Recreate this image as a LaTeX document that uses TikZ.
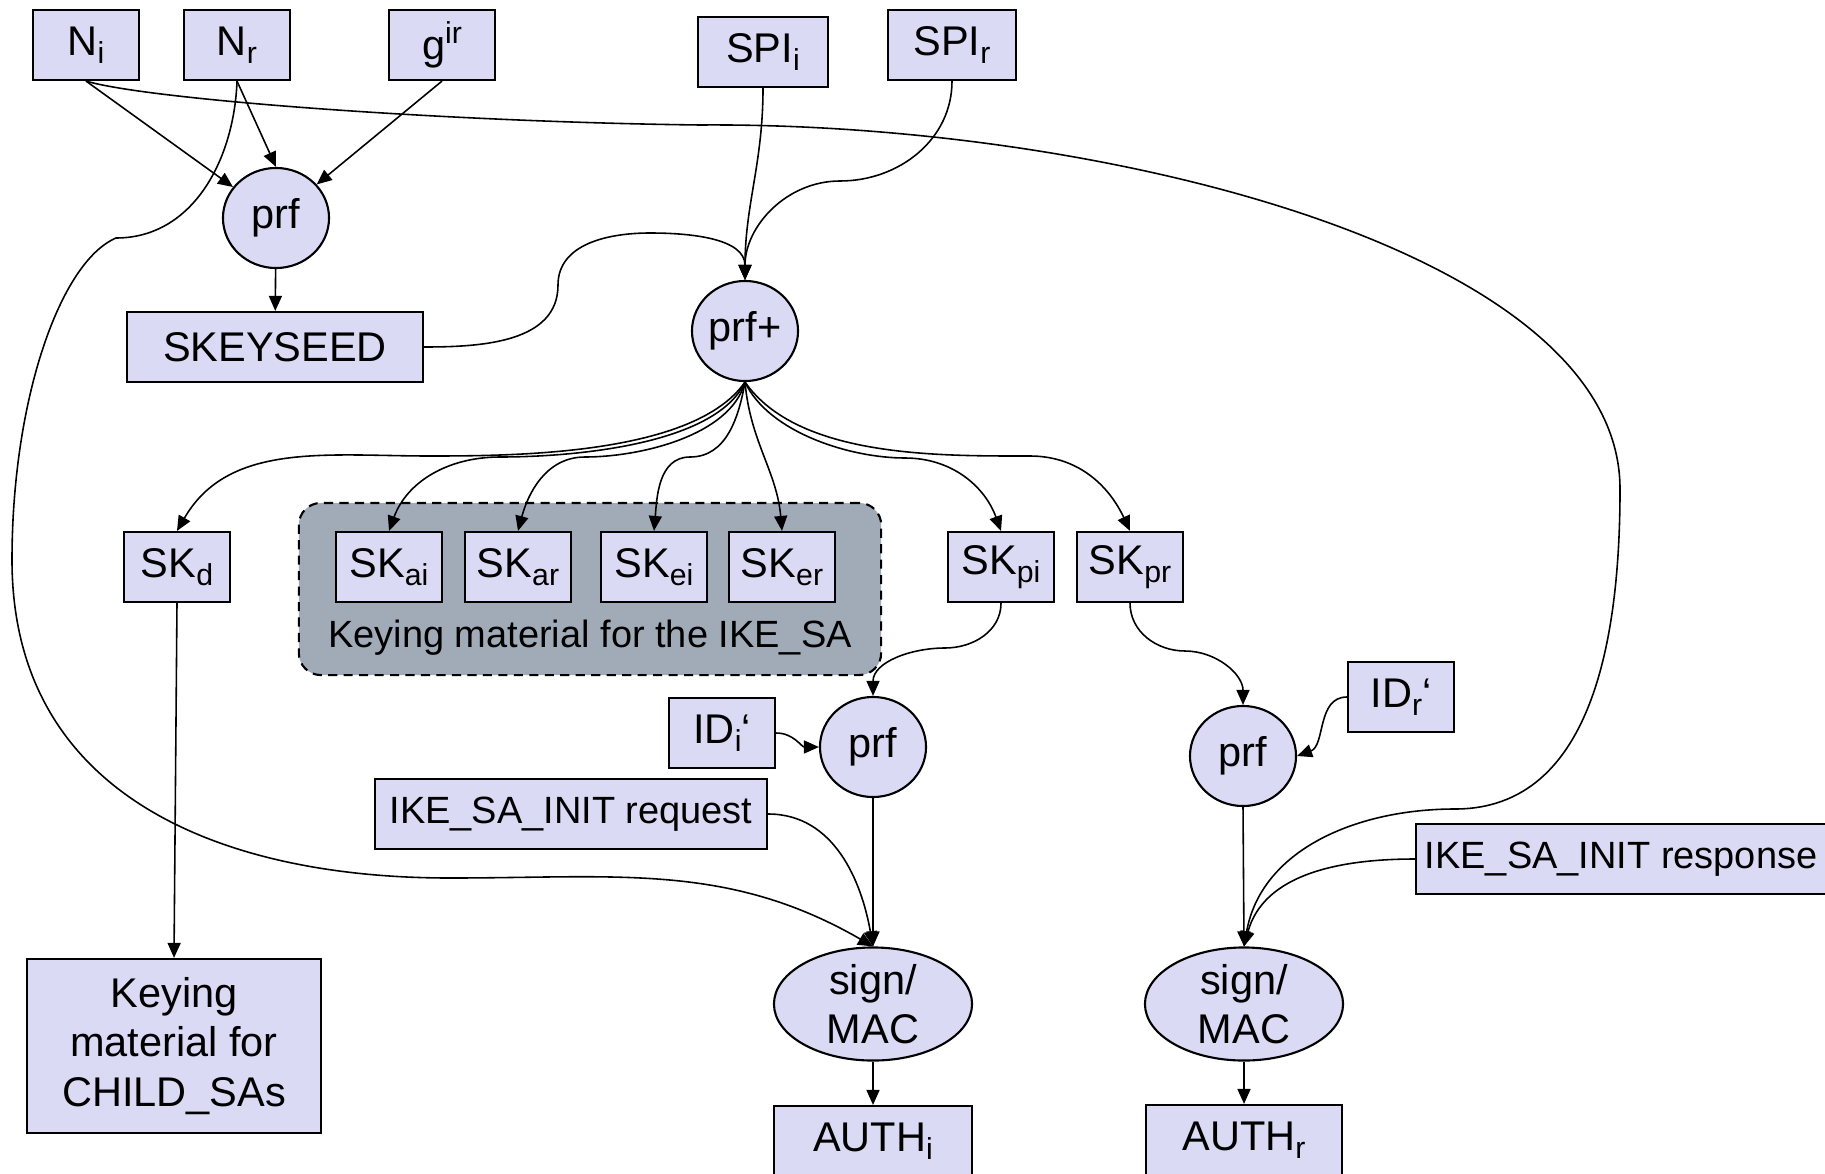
\documentclass[tikz,border=0pt]{standalone}
\usepackage{fontspec}
\setmainfont{Liberation Sans}
\usetikzlibrary{%
  arrows.meta,%
  shapes.geometric,% wg. ellipse
  positioning%
}
\definecolor{keyfill}{RGB}{218,218,244}
\definecolor{grpfill}{RGB}{161,171,184}
\newcommand{\subtxt}[1]{\raisebox{-2.4pt}{\fontsize{8.6}{10}\selectfont #1}}
\newcommand{\suptxt}[1]{\raisebox{4.6pt}{\fontsize{8.6}{10}\selectfont #1}}

\begin{document}
\begin{tikzpicture}[x=0.01cm,y=-0.01cm,
  keybox/.style={draw,fill=keyfill,line width=0.6pt,inner sep=0pt,minimum width=1.06cm,minimum height=0.70cm,font=\fontsize{11.8}{14}\selectfont},
  func/.style={ellipse,draw,fill=keyfill,line width=0.6pt,inner sep=0pt,minimum width=1.06cm,minimum height=1.0cm,font=\fontsize{11.8}{14}\selectfont},
  signfn/.style={func,inner sep=-3pt,minimum width=1.98cm,minimum height=1.13cm,align=center},
  ikegroup/.style={draw,fill=grpfill,dash pattern=on 2.6pt off 1.8pt,rounded corners=0.22cm,line width=0.6pt,minimum width=5.82cm,minimum height=1.72cm},
  small/.style={font=\fontsize{10.8}{13}\selectfont},
  conn/.style={-{Triangle[length=1.5mm,width=1.3mm]},line width=0.45pt}]
 \useasboundingbox (0,0) rectangle (1825,1173);

 %Eingaben
 \node[keybox] (Ni) at (86,45) {N\subtxt{i}};
 \node[keybox] (Nr) at (237,45) {N\subtxt{r}};
 \node[keybox] (gir) at (442,45) {g\suptxt{ir}};
 \node[keybox,minimum width=1.30cm] (SPIi) at (763,52) {SPI\subtxt{i}};
 \node[keybox,minimum width=1.28cm] (SPIr) at (952,45) {SPI\subtxt{r}};

 \node[func] (prfA) at (276,218) {prf};
 \node[keybox,minimum width=2.96cm] (skeyseed) at (275,347) {SKEYSEED};
 \node[func] (prfplus) at (745,331) {prf+};

 %Schluessel
 \node[ikegroup] (ikesa) at (590,589) {};
 \node[keybox] (SKd) at (177,567) {SK\subtxt{d}};
 \node[keybox] (SKai) at (389,567) {SK\subtxt{ai}};
 \node[keybox] (SKar) at (518,567) {SK\subtxt{ar}};
 \node[keybox] (SKei) at (654,567) {SK\subtxt{ei}};
 \node[keybox] (SKer) at (782,567) {SK\subtxt{er}};
 \node[keybox] (SKpi) at (1001,567) {SK\subtxt{pi}};
 \node[keybox] (SKpr) at (1130,567) {SK\subtxt{pr}};
 \node[small] (ikesatext) at (590,638) {Keying material for the IKE\_SA};
 \node[keybox,minimum width=2.94cm,minimum height=1.74cm,align=center] (child) at (174,1046) {Keying\\material for\\CHILD\_SAs};

 %Initiator
 \node[keybox] (IDi) at (722,733) {ID\subtxt{i}‘};
 \node[func] (prfI) at (873,747) {prf};
 \node[keybox,small,minimum width=3.92cm] (initreq) at (571,814) {IKE\_SA\_INIT request};
 \node[signfn] (signI) at (873,1004) {sign/\\MAC};
 \node[keybox,minimum width=1.98cm] (authI) at (873,1141) {AUTH\subtxt{i}};

 %Responder
 \node[keybox] (IDr) at (1401,697) {ID\subtxt{r}‘};
 \node[func] (prfR) at (1243,756) {prf};
 \node[keybox,small,minimum width=4.10cm] (initresp) at (1621,859) {IKE\_SA\_INIT response};
 \node[signfn] (signR) at (1244,1004) {sign/\\MAC};
 \node[keybox,minimum width=1.96cm] (authR) at (1244,1140) {AUTH\subtxt{r}};

 %Verbindungen
 \draw[conn] (Ni.south) -- (prfA);
 \draw[conn] (Nr.south) -- (prfA.north);
 \draw[conn] (gir.south) -- (prfA);
 \draw[conn] (prfA) -- (skeyseed);
 \draw[conn] (Ni.south) .. controls (150,100) and (450,122) .. (700,125)
   .. controls (1100,122) and (1620,250) .. (1620,489)
   to[out=-90,in=0] (1455,809) to[out=180,in=80] (signR.north);
 \draw[conn] (Nr.south) to[out=-92,in=0] (116,238)
   .. controls (60,262) and (12,400) .. (12,560)
   to[out=-90,in=180,looseness=1.1] (450,878) to[out=0,in=150] (signI.north);

 \draw[conn] (SPIi.south) to[out=-90,in=90] (prfplus.north);
 \draw[conn] (SPIr.south) to[out=-90,in=0] (840,181) to[out=180,in=90] (prfplus.north);
 \draw[conn] (skeyseed.east) to[out=0,in=-90] (558,285) to[out=90,in=180] (650,233) to[out=0,in=90] (prfplus.north);

 \draw[conn] (prfplus.south) to[out=-125,in=0,looseness=0.7] (430,456) to[out=180,in=60] (SKd.north);
 \draw[conn] (prfplus.south) to[out=-115,in=0,looseness=0.7] (500,457) to[out=180,in=70] (SKai.north);
 \draw[conn] (prfplus.south) to[out=-105,in=0,looseness=0.8] (585,457) to[out=180,in=75] (SKar.north);
 \draw[conn] (prfplus.south) to[out=-100,in=0] (690,457) to[out=180,in=85] (SKei.north);
 \draw[conn] (prfplus.south) to[out=-85,in=95] (SKer.north);
 \draw[conn] (prfplus.south) to[out=-65,in=180,looseness=0.8] (905,458) to[out=0,in=110] (SKpi.north);
 \draw[conn] (prfplus.south) to[out=-55,in=180,looseness=0.8] (1030,456) to[out=0,in=115] (SKpr.north);

 \draw[conn] (SKd.south) -- (child.north);

 \draw[conn] (SKpi.south) to[out=-90,in=0] (945,648) to[out=180,in=90] (prfI.north);
 \draw[conn] (IDi.east) to[out=0,in=180] (prfI.west);
 \draw[conn] (prfI.south) -- (signI.north);
 \draw[conn] (initreq.east) to[out=0,in=100] (signI.north);
 \draw[conn] (signI.south) -- (authI.north);

 \draw[conn] (SKpr.south) to[out=-90,in=180] (1185,651) to[out=0,in=90] (prfR.north);
 \draw[conn] (IDr.west) to[out=180,in=20] (prfR.east);
 \draw[conn] (prfR.south) -- (signR.north);
 \draw[conn] (initresp.west) to[out=180,in=75] (signR.north);
 \draw[conn] (signR.south) -- (authR.north);
\end{tikzpicture}
\end{document}
